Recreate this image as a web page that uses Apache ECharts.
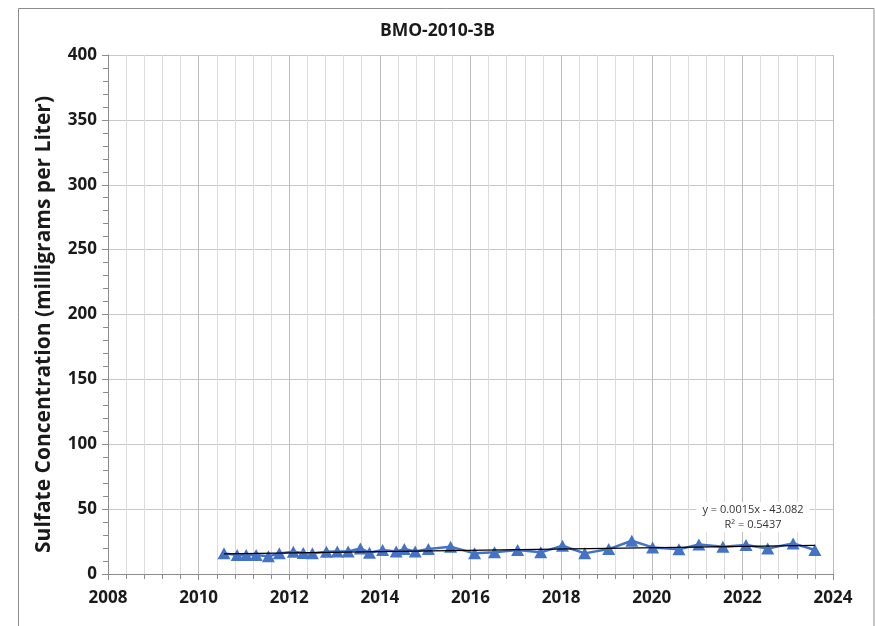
<!DOCTYPE html>
<html>
<head>
<meta charset="utf-8">
<script src="https://cdn.jsdelivr.net/npm/echarts@6/dist/echarts.min.js"></script>
<style>
  html, body { margin: 0; padding: 0; background: #fff; }
  #chart { width: 875px; height: 626px; }
</style>
</head>
<body>
<div id="chart"></div>
<script>
// Sampling dates (decimal years) and sulfate results (mg/L) for well BMO-2010-3B
const sampleYears = [
  2010.56, 2010.85, 2011.05, 2011.27, 2011.54, 2011.78, 2012.09, 2012.31, 2012.51,
  2012.82, 2013.06, 2013.30, 2013.57, 2013.77, 2014.06, 2014.36, 2014.54, 2014.78,
  2015.07, 2015.56, 2016.09, 2016.53, 2017.04, 2017.55, 2018.03, 2018.52, 2019.05,
  2019.56, 2020.02, 2020.60, 2021.04, 2021.57, 2022.08, 2022.56, 2023.12, 2023.60
];
const sulfate = [
  15.9, 14.6, 14.6, 14.6, 13.6, 15.9, 17.2, 16.2, 15.9,
  17.2, 17.4, 17.4, 19.7, 16.4, 18.5, 17.4, 19.2, 17.4,
  19.2, 21.0, 15.9, 16.7, 18.5, 16.7, 21.8, 15.9, 19.2,
  25.6, 20.5, 19.0, 22.8, 21.0, 22.3, 19.7, 23.6, 18.5
];
const xTicks = [2008, 2010, 2012, 2014, 2016, 2018, 2020, 2022, 2024];
const yTicks = [0, 50, 100, 150, 200, 250, 300, 350, 400];
const trendLabel = ['y = 0.0015x - 43.082', 'R\u00B2 = 0.5437'];

// Least-squares linear trend through the samples
function linearFit(xs, ys) {
  const n = xs.length;
  let sx = 0, sy = 0, sxx = 0, sxy = 0;
  for (let i = 0; i < n; i++) {
    sx += xs[i]; sy += ys[i]; sxx += xs[i] * xs[i]; sxy += xs[i] * ys[i];
  }
  const slope = (n * sxy - sx * sy) / (n * sxx - sx * sx);
  const intercept = (sy - slope * sx) / n;
  return x => slope * x + intercept;
}
const fit = linearFit(sampleYears, sulfate);
const xFirst = sampleYears[0];
const xLast = sampleYears[sampleYears.length - 1];
const trendData = [[xFirst, fit(xFirst)], [xLast, fit(xLast)]];

const seriesData = sampleYears.map((x, i) => [x, sulfate[i]]);

const FONT = '"Open Sans", Lato, sans-serif';
const chart = echarts.init(document.getElementById('chart'), null, { renderer: 'canvas' });

chart.setOption({
  animation: false,
  backgroundColor: '#fff',
  title: {
    text: 'BMO-2010-3B',
    left: 'center',
    top: 17,
    textStyle: { fontFamily: FONT, fontWeight: 'bold', fontSize: 17.5, color: '#1a1a1a' }
  },
  grid: { left: 108, right: 42, top: 55, bottom: 52, containLabel: false },
  xAxis: {
    type: 'value',
    min: xTicks[0],
    max: xTicks[xTicks.length - 1],
    interval: 2,
    axisLine: { show: true, onZero: false, lineStyle: { color: '#8c8c8c', width: 1 } },
    axisTick: { show: true, length: 6, lineStyle: { color: '#8c8c8c' } },
    minorTick: { show: true, splitNumber: 5, length: 5, lineStyle: { color: '#8c8c8c' } },
    splitLine: { show: true, lineStyle: { color: '#bdbdbd', width: 1 } },
    minorSplitLine: { show: true, lineStyle: { color: '#dcdcdc', width: 1 } },
    axisLabel: {
      margin: 16,
      fontFamily: FONT, fontWeight: 'bold', fontSize: 17, color: '#1a1a1a',
      formatter: v => String(v)
    }
  },
  yAxis: {
    type: 'value',
    min: yTicks[0],
    max: yTicks[yTicks.length - 1],
    interval: 50,
    name: 'Sulfate Concentration (milligrams per Liter)',
    nameLocation: 'middle',
    nameGap: 53,
    nameTextStyle: {
      fontFamily: FONT, fontWeight: 'bold', fontSize: 21, color: '#1a1a1a',
      padding: [0, 20, 0, 0]
    },
    axisLine: { show: true, lineStyle: { color: '#8c8c8c', width: 1 } },
    axisTick: { show: true, length: 6, lineStyle: { color: '#8c8c8c' } },
    minorTick: { show: true, splitNumber: 5, length: 5, lineStyle: { color: '#8c8c8c' } },
    splitLine: { show: true, lineStyle: { color: '#c8c8c8', width: 1 } },
    axisLabel: {
      margin: 11,
      fontFamily: FONT, fontWeight: 'bold', fontSize: 17, color: '#1a1a1a'
    }
  },
  series: [
    {
      name: 'Sulfate',
      type: 'line',
      data: seriesData,
      symbol: 'triangle',
      symbolSize: [13, 12],
      itemStyle: { color: '#4472C4' },
      lineStyle: { color: '#4472C4', width: 2.5 },
      z: 3
    },
    {
      name: 'Trend',
      type: 'line',
      data: trendData,
      symbol: 'none',
      lineStyle: { color: '#000', width: 1.3 },
      z: 4
    }
  ],
  graphic: [
    {
      type: 'rect',
      shape: { x: 18.5, y: 8.5, width: 855.5, height: 630 },
      style: { fill: 'none', stroke: '#8c8c8c', lineWidth: 1 },
      silent: true
    },
    {
      type: 'text',
      x: 753,
      y: 502,
      style: {
        text: trendLabel.join('\n'),
        align: 'center',
        verticalAlign: 'top',
        fontFamily: FONT,
        fontSize: 11,
        lineHeight: 15,
        fill: '#333',
        backgroundColor: '#fff',
        padding: [0, 6]
      },
      z: 10
    }
  ]
});
</script>
</body>
</html>
